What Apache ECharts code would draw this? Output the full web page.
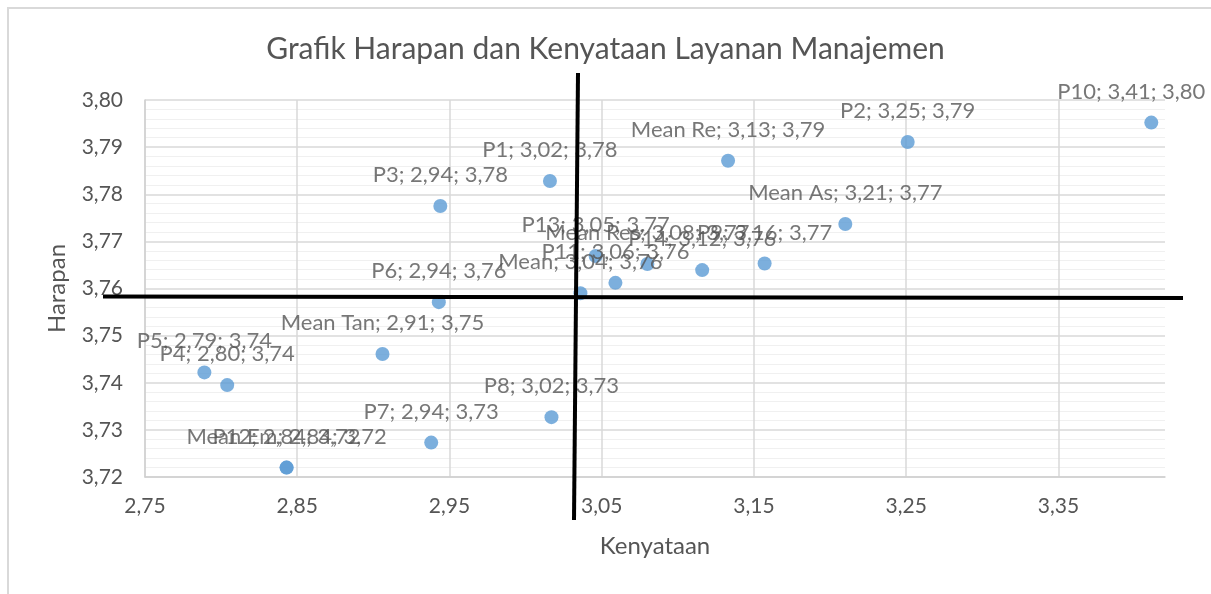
<!DOCTYPE html>
<html><head><meta charset="utf-8">
<script src="https://cdn.jsdelivr.net/npm/echarts@6/dist/echarts.min.js"></script>
<style>html,body{margin:0;padding:0;background:#fff}#c{width:1211px;height:594px}</style>
</head><body><div id="c"></div>
<script>
// ---- data ----
const names = ['P1','P2','P3','P4','P5','P6','P7','P8','P9','P10','P11','P12','P13','P14','Mean Tan','Mean Re','Mean Res','Mean As','Mean Em','Mean'];
const kenyataan = [3.016, 3.251, 2.944, 2.804, 2.789, 2.943, 2.938, 3.017, 3.157, 3.411, 3.059, 2.843, 3.046, 3.116, 2.906, 3.133, 3.080, 3.210, 2.843, 3.036];
const harapan   = [3.7828, 3.7911, 3.7775, 3.7395, 3.7422, 3.7571, 3.7273, 3.7327, 3.7653, 3.7952, 3.7612, 3.722, 3.7669, 3.7639, 3.7461, 3.7871, 3.7652, 3.7737, 3.722, 3.759];
const xTicks = [2.75, 2.85, 2.95, 3.05, 3.15, 3.25, 3.35];
const xMax = 3.42;
const yTicks = [3.72, 3.73, 3.74, 3.75, 3.76, 3.77, 3.78, 3.79, 3.80];

const FONT = 'Lato';
const GRAY = '#555555';
const fmt = v => v.toFixed(2).replace('.', ',');

const labelShift = { 'P10': -20 };

const data = names.map((n, i) => ({ name: n, value: [kenyataan[i], harapan[i]] }));

const chart = echarts.init(document.getElementById('c'));
chart.setOption({
  animation: false,
  backgroundColor: '#fff',
  title: {
    text: 'Grafik Harapan dan Kenyataan Layanan Manajemen',
    left: 'center', top: 29,
    textStyle: { fontFamily: FONT, fontSize: 30, fontWeight: 'normal', color: GRAY }
  },
  grid: { left: 145, right: 46, top: 100, bottom: 117, containLabel: false, outerBoundsMode: 'none' },
  xAxis: {
    type: 'value',
    min: xTicks[0], max: xMax,
    interval: Math.round((xTicks[1] - xTicks[0]) * 100) / 100,
    name: 'Kenyataan', nameLocation: 'middle', nameGap: 57,
    nameTextStyle: { fontFamily: FONT, fontSize: 24, color: GRAY },
    axisLine: { show: true, lineStyle: { color: '#D0D0D0', width: 1.5 } },
    axisTick: { show: false },
    axisLabel: { fontFamily: FONT, fontSize: 21, color: GRAY, margin: 19, showMaxLabel: false, formatter: fmt },
    splitLine: { show: true, showMaxLine: false, lineStyle: { color: '#D9D9D9', width: 1.5 } }
  },
  yAxis: {
    type: 'value',
    min: yTicks[0], max: yTicks[yTicks.length - 1],
    interval: Math.round((yTicks[1] - yTicks[0]) * 100) / 100,
    name: 'Harapan', nameLocation: 'middle', nameGap: 76, nameRotate: 90,
    nameTextStyle: { fontFamily: FONT, fontSize: 24, color: GRAY },
    axisLine: { show: true, lineStyle: { color: '#D0D0D0', width: 1.5 } },
    axisTick: { show: false },
    axisLabel: { fontFamily: FONT, fontSize: 21, color: GRAY, margin: 22, formatter: fmt },
    splitLine: { show: true, lineStyle: { color: '#D9D9D9', width: 1.5 } },
    minorTick: { show: false, splitNumber: 5 },
    minorSplitLine: { show: true, lineStyle: { color: '#F0F0F0', width: 1 } }
  },
  series: [{
    type: 'scatter',
    symbol: 'circle',
    symbolSize: 14,
    itemStyle: { color: '#5B9BD5' },
    data: data,
    label: {
      show: true, position: 'top', distance: 13,
      fontFamily: FONT, fontSize: 22, lineHeight: 22, color: GRAY,
      formatter: p => p.name + '; ' + fmt(p.value[0]) + '; ' + fmt(p.value[1])
    },
    labelLayout: function (params) {
      const s = labelShift[names[params.dataIndex]];
      return s ? { dx: s, hideOverlap: false } : { hideOverlap: false };
    }
  }],
  graphic: [
    { type: 'rect', shape: { x: 8, y: 8, width: 1215, height: 600 }, style: { fill: 'none', stroke: '#D9D9D9', lineWidth: 2 }, z: 100 },
    { type: 'line', shape: { x1: 103, y1: 296.5, x2: 1183, y2: 298 }, style: { stroke: '#000', lineWidth: 4 }, z: 100 },
    { type: 'line', shape: { x1: 578, y1: 73, x2: 574, y2: 520 }, style: { stroke: '#000', lineWidth: 4 }, z: 100 }
  ]
});
</script>
</body></html>
